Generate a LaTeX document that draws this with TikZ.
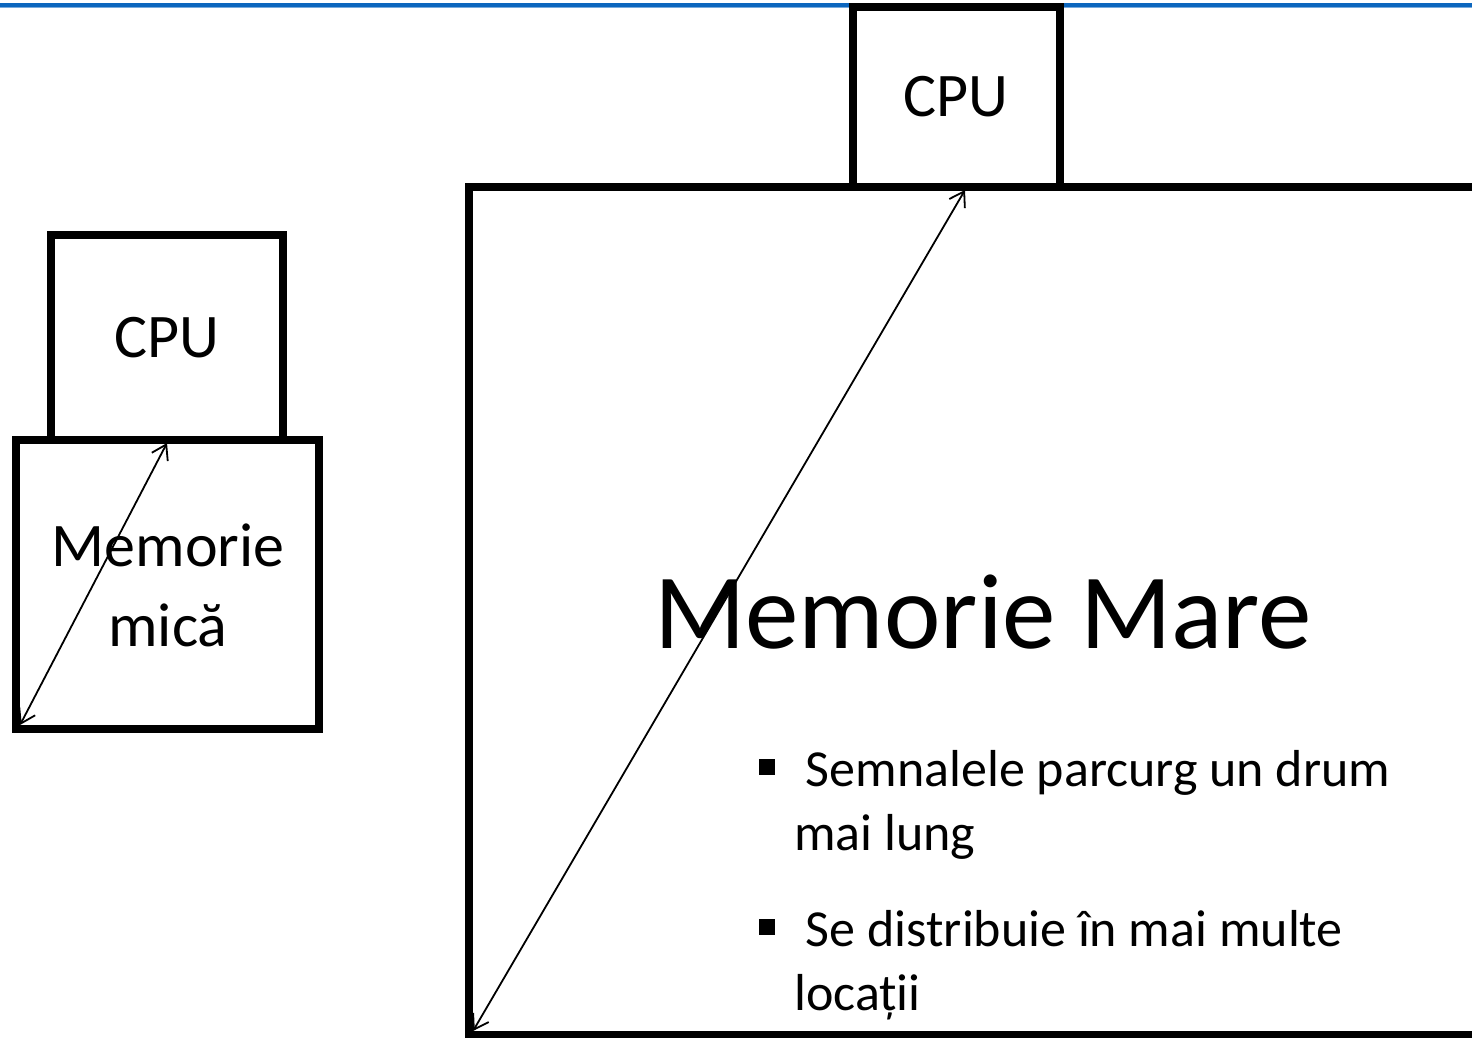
\documentclass[tikz,border=0pt]{standalone}
\usepackage{fontspec}
\setmainfont{Carlito}
\usetikzlibrary{arrows.meta}
\definecolor{topblue}{RGB}{12,102,190}
\definecolor{topblue2}{RGB}{120,170,220}
\begin{document}
\begin{tikzpicture}[x=1pt,y=-1pt,
  boxst/.style={draw=black,line width=8pt,fill=white,inner sep=0pt,outer sep=0pt,minimum width=#1},
  linkst/.style={{Straight Barb[length=14pt,width=18pt]}-{Straight Barb[length=14pt,width=18pt]},line width=1.8pt},
  txt/.style={inner sep=0pt,align=center},
  bullst/.style={inner sep=0pt,anchor=base west,align=left,font=\fontsize{52pt}{64pt}\selectfont}]
\useasboundingbox (0,0) rectangle (1472,1037);
\fill[white] (0,0) rectangle (1472,1037);
% top rule
\fill[topblue] (0,2.5) rectangle (1472,6.5);
\fill[topblue2] (0,6.5) rectangle (1472,8);
% big memory box (runs off the page)
\node[boxst=1061pt,minimum height=848pt] (bmem) at (999.5,611) {};
\node[boxst=207pt,minimum height=180pt] (bcpu) at (956,97) {};
\node[txt,font=\fontsize{62pt}{68pt}\selectfont] (bcput) at (956,97) {CPU};
% small boxes
\node[boxst=232pt,minimum height=205pt] (scpu) at (167,337.5) {};
\node[boxst=303pt,minimum height=289pt] (smem) at (167.5,584.5) {};
\node[txt,font=\fontsize{62pt}{68pt}\selectfont] (scput) at (167,337.5) {CPU};
\node[txt,anchor=base,font=\fontsize{62pt}{80pt}\selectfont] (smemt) at (168,646) {Memorie\\mică};
% big memory label
\node[txt,anchor=base,font=\fontsize{107pt}{118pt}\selectfont] (bmemt) at (983,648) {Memorie Mare};
% bullets
\node[bullst] (b1) at (759,850)
  {\makebox[35pt][l]{\rule[11pt]{16pt}{16pt}} Semnalele parcurg un drum\\\hspace*{35pt}mai lung};
\node[bullst] (b2) at (759,1010)
  {\makebox[35pt][l]{\rule[11pt]{16pt}{16pt}} Se distribuie în mai multe\\\hspace*{35pt}locații};
% signal paths
\draw[linkst] ([shift={(4,-4)}]smem.south west) -- ([shift={(0,3)}]scpu.south);
\draw[linkst] ([shift={(4,-4)}]bmem.south west) -- ([shift={(9,3)}]bcpu.south);
\end{tikzpicture}
\end{document}
